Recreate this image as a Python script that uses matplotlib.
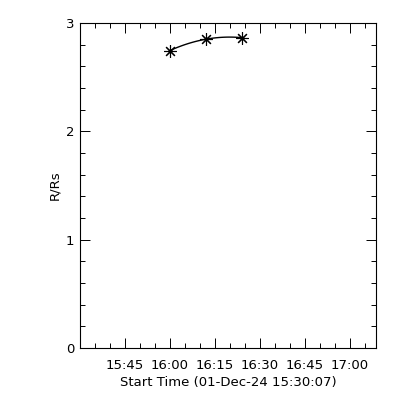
import matplotlib
matplotlib.use("Agg")
import matplotlib.pyplot as plt
import matplotlib.dates as mdates
import numpy as np
from datetime import datetime

start = datetime(2024, 12, 1, 15, 30, 7)
end = datetime(2024, 12, 1, 17, 8, 47)
times = [datetime(2024, 12, 1, 16, 0, 0), datetime(2024, 12, 1, 16, 12, 0), datetime(2024, 12, 1, 16, 24, 0)]
heights = [2.745, 2.85, 2.865]

fig = plt.figure(figsize=(4, 4), dpi=100)
ax = fig.add_axes([0.2, 0.13, 0.74, 0.8125])

t = mdates.date2num(times)
coef = np.polyfit(t, heights, 2)
tt = np.linspace(t[0], t[-1], 50)
ax.plot(tt, np.polyval(coef, tt), color="black", lw=1)
ax.plot(t, heights, ls="none", marker=(8, 2, 0), ms=9, mew=0.8, color="black")

ax.set_xlim(mdates.date2num(start), mdates.date2num(end))
ax.set_ylim(0, 3)
ax.xaxis.set_major_locator(mdates.MinuteLocator(byminute=[0, 15, 30, 45]))
ax.xaxis.set_minor_locator(mdates.MinuteLocator(byminute=range(0, 60, 5)))
ax.xaxis.set_major_formatter(mdates.DateFormatter("%H:%M"))
ax.set_yticks([0, 1, 2, 3])
ax.set_yticks(np.arange(0, 3.01, 0.2), minor=True)

ax.tick_params(which="both", direction="in", top=True, right=True, width=0.7, labelsize=9.5, colors="black")
ax.tick_params(which="major", length=7)
ax.tick_params(which="minor", length=3.5)
ax.tick_params(axis="x", pad=8)
ax.tick_params(axis="y", pad=4)
for s in ax.spines.values():
    s.set_linewidth(0.8)

ax.set_xlabel("Start Time (01-Dec-24 15:30:07)", fontsize=9.5, labelpad=3)
ax.set_ylabel("R/Rs", fontsize=9.5)
ax.yaxis.set_label_coords(-0.065, 0.5)

fig.savefig("out.png", dpi=100)
